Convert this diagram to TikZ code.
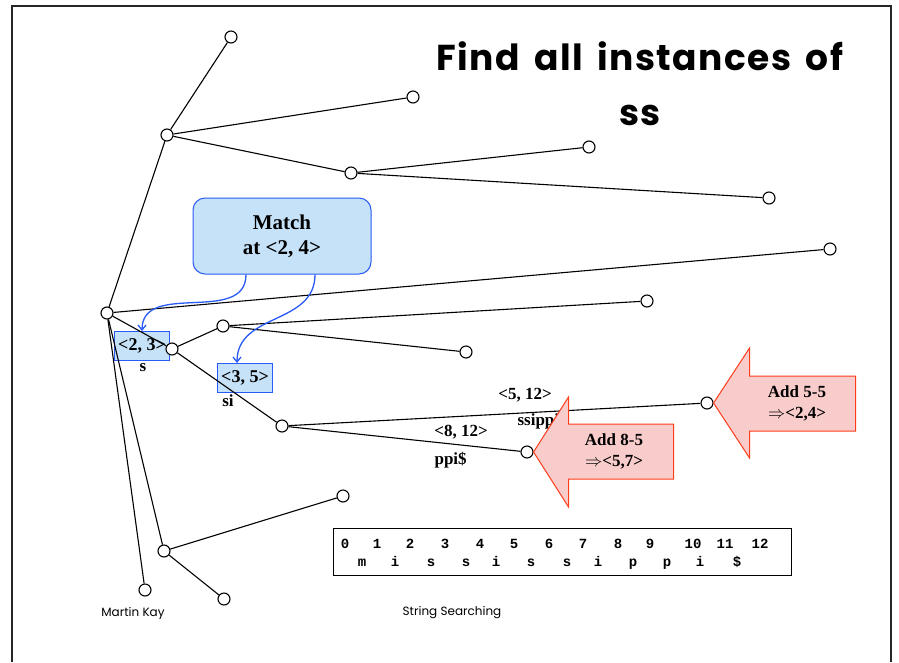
\documentclass[tikz,border=0pt]{standalone}
\usepackage{fontspec}
\setmainfont{Liberation Serif}
\newfontfamily\comicfont{Poppins}[LetterSpace=4, WordSpace=1.6]
\newfontfamily\footfont{Poppins}
\newfontfamily\monofont{Liberation Mono}
\usetikzlibrary{arrows.meta}

\definecolor{boxblue}{RGB}{198,226,248}
\definecolor{lineblue}{RGB}{40,90,245}
\definecolor{boxred}{RGB}{248,204,203}
\definecolor{linered}{RGB}{255,60,25}

\tikzset{
  > = {Straight Barb[length=5pt,width=8pt]},
  dot/.style = {circle, draw, fill=white, line width=1.1pt, minimum size=12pt, inner sep=0pt},
  idxbox/.style = {draw=lineblue, fill=boxblue, line width=0.9pt, minimum width=55pt, minimum height=29pt, inner sep=0pt, font=\fontsize{18}{20}\selectfont\bfseries},
  lbl/.style = {font=\fontsize{17}{19}\selectfont\bfseries, inner sep=0pt},
  addarrow/.style = {draw=linered, fill=boxred, line width=1pt},
  footer/.style = {font=\footfont\fontsize{12}{14}\selectfont, inner sep=0pt},
  strchar/.style = {font=\monofont\bfseries\fontsize{14}{15}\selectfont, inner sep=0pt, anchor=base},
}

\begin{document}
\begin{tikzpicture}[x=1pt, y=-1pt, line width=1.1pt]
\useasboundingbox (0,0) rectangle (899,662);
% frame
\draw[line width=1.6pt, black!85] (12,662) -- (12,6) -- (891,6) -- (891,662);

% title
\node[font=\comicfont\bfseries\fontsize{36}{55}\selectfont, align=center] (title) at (640,84) {Find all instances of\\ss};

% interval boxes
\node[idxbox] (b23) at (142,346) {<2, 3>};
\node[idxbox] (b35) at (245,378) {<3, 5>};
\node[draw=lineblue, fill=boxblue, line width=1pt, rounded corners=12pt, minimum width=178pt, minimum height=76pt, align=center, font=\fontsize{21}{25}\selectfont\bfseries] (match) at (282,236) {Match\\at <2, 4>};

% nodes
\node[dot] (R)  at (107,313) {};
\node[dot] (A)  at (167,135) {};
\node[dot] (A1) at (231,37)  {};
\node[dot] (A2) at (413,97)  {};
\node[dot] (B)  at (351,173) {};
\node[dot] (B1) at (589,147) {};
\node[dot] (B2) at (769,198) {};
\node[dot] (R1) at (830,249) {};
\node[dot] (C)  at (172,349) {};
\node[dot] (D)  at (223,326) {};
\node[dot] (D1) at (647,301) {};
\node[dot] (D2) at (466,352) {};
\node[dot] (E)  at (282,426) {};
\node[dot] (E1) at (707,403) {};
\node[dot] (E2) at (527,452) {};
\node[dot] (F)  at (164,551) {};
\node[dot] (F1) at (343,496) {};
\node[dot] (F2) at (224,599) {};
\node[dot] (G)  at (145,590) {};

% edges
\draw
(R) edge (A)
(A) edge (A1)
(A) edge (A2)
(A) edge (B)
(B) edge (B1)
(B) edge (B2)
(R) edge (R1)
(R) edge (C)
(C) edge (D)
(D) edge (D1)
(D) edge (D2)
(C) edge (E)
(E) edge (E1)
(E) edge (E2)
(R) edge (F)
(F) edge (F1)
(F) edge (F2)
(R) edge (G);

% edge labels
\node[lbl] (s)    at (143,368) {s};
\node[lbl] (si)   at (228,401) {si};
\node[lbl] (l512) at (525,395) {<5, 12>};
\node[lbl, anchor=west] (ssip) at (517,421) {ssippi\$};
\node[lbl] (l812) at (461,432) {<8, 12>};
\node[lbl, anchor=west] (ppi) at (434,460) {ppi\$};

% match pointers
\draw[->, lineblue, line width=1.3pt] (match.south -| 246,0) to[out=-90, in=90, looseness=1.1] (b23.north);
\draw[->, lineblue, line width=1.3pt] (match.south -| 315,0) to[out=-90, in=90, looseness=1.1] (b35.north -| 237,0);

% add arrows
\draw[addarrow] (E1.east) -- ++(36,-55) -- ++(0,28) -- ++(106,0) -- ++(0,55) -- ++(-106,0) -- ++(0,27) -- cycle;
\node[lbl, align=center] (add55) at (797,403) {Add 5-5\\[2pt]$\Rightarrow$<2,4>};
\draw[addarrow] (E2.east) -- ++(35,-55) -- ++(0,27) -- ++(105,0) -- ++(0,55) -- ++(-105,0) -- ++(0,28) -- cycle;
\node[lbl, align=center] (add85) at (614,451) {Add 8-5\\[2pt]$\Rightarrow$<5,7>};

% string
\node[draw, line width=1pt, minimum width=458pt, minimum height=47pt] (str) at (562,552) {};
\foreach \x/\i in {345/0,377/1,410/2,445/3,480/4,514/5,549/6,583/7,618/8,650/9,693/10,725/11,760/12}
  \node[strchar] at (\x,548) {\i};
\foreach \x/\c in {362/m,395/i,431/s,466/s,496/i,531/s,567/s,598/i,633/p,667/p,700/i,737/\$}
  \node[strchar] at (\x,566) {\c};

% footers
\node[footer] (author) at (133,613) {Martin Kay};
\node[footer] (topic)  at (452,613) {String Searching};
\end{tikzpicture}
\end{document}
